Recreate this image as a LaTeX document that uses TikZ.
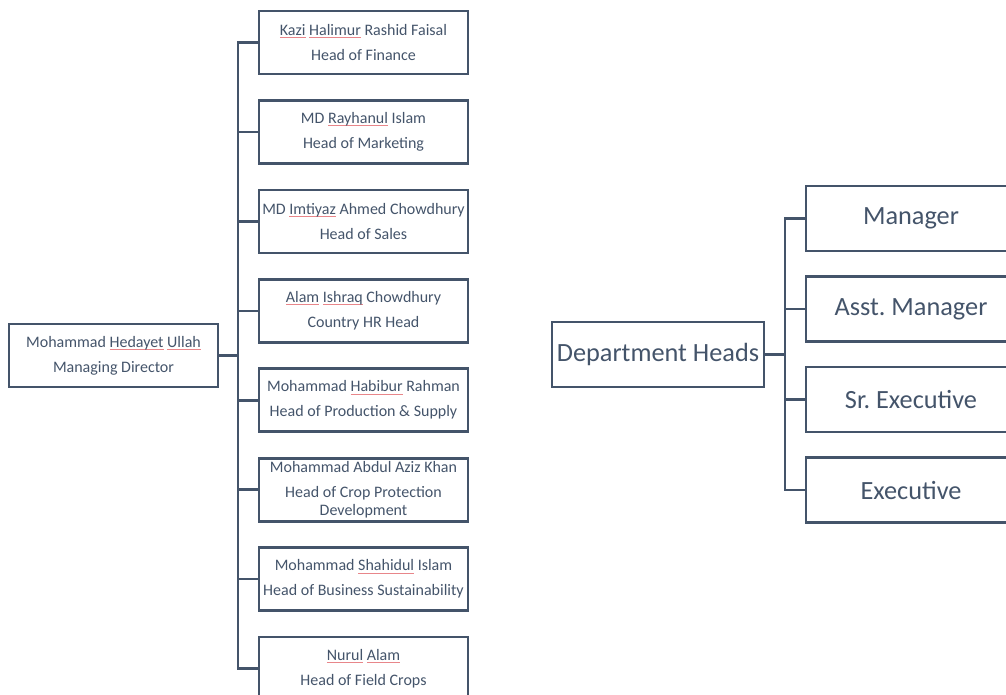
\documentclass[tikz,border=0pt]{standalone}
\usepackage{fontspec}
\setmainfont{Carlito}
\frenchspacing
\definecolor{slate}{HTML}{44546A}
\definecolor{squig}{HTML}{E8868A}
\newcommand\sqw[1]{\setbox0\hbox{#1}\rlap{\textcolor{squig}{\rule[-2.6pt]{\wd0}{0.7pt}}}\box0\relax}
\begin{document}
\begin{tikzpicture}[x=1pt,y=-1pt,
  box/.style={draw=slate, line width=2.6pt, text=slate, minimum width=209pt, minimum height=63pt, align=center, inner sep=0pt, font=\fontsize{16}{18}\selectfont},
  big/.style={draw=slate, line width=2.6pt, text=slate, minimum width=210pt, minimum height=65pt, inner sep=0pt, font=\fontsize{26.3}{30}\selectfont},
  link/.style={draw=slate, line width=2.6pt}]
\useasboundingbox (0,0) rectangle (1006,694);
\clip (0,0) rectangle (1006,694);
% left chart
\node[box] (md) at (113.5,355.5) {Mohammad \sqw{Hedayet} \sqw{Ullah}\\[7pt]Managing Director};
\node[box] (c1) at (363.5,42.5) {\sqw{Kazi} \sqw{Halimur} Rashid Faisal\\[7pt]Head of Finance};
\node[box] (c2) at (363.5,131.9) {MD \sqw{Rayhanul} Islam\\[7pt]Head of Marketing};
\node[box] (c3) at (363.5,221.4) {MD \sqw{Imtiyaz} Ahmed Chowdhury\\[7pt]Head of Sales};
\node[box] (c4) at (363.5,310.8) {\sqw{Alam} \sqw{Ishraq} Chowdhury\\[7pt]Country HR Head};
\node[box] (c5) at (363.5,400.2) {Mohammad \sqw{Habibur} Rahman\\[7pt]Head of Production \& Supply};
\node[box] (c6) at (363.5,489.7) {Mohammad Abdul Aziz Khan\\[7pt]Head of Crop Protection\\Development};
\node[box] (c7) at (363.5,579.1) {Mohammad \sqw{Shahidul} Islam\\[7pt]Head of Business Sustainability};
\node[box] (c8) at (363.5,668.5) {\sqw{Nurul} \sqw{Alam}\\[7pt]Head of Field Crops};
\coordinate (ls) at (238,355.5);
\draw[link] (md.east) -- (ls);
\draw[link] (c1.west) -- (c1.west -| ls) -- (c8.west -| ls) -- (c8.west);
\foreach \i in {2,...,7} \draw[link] (c\i.west) -- (c\i.west -| ls);
% right chart
\node[big, minimum width=212pt] (dh) at (658,354.5) {Department Heads};
\node[big] (r1) at (911,218.5) {Manager};
\node[big] (r2) at (911,309) {Asst. Manager};
\node[big] (r3) at (911,399.5) {Sr. Executive};
\node[big] (r4) at (911,490) {Executive};
\coordinate (rs) at (785,354.5);
\draw[link] (dh.east) -- (rs);
\draw[link] (r1.west) -- (r1.west -| rs) -- (r4.west -| rs) -- (r4.west);
\foreach \i in {2,3} \draw[link] (r\i.west) -- (r\i.west -| rs);
\end{tikzpicture}
\end{document}
